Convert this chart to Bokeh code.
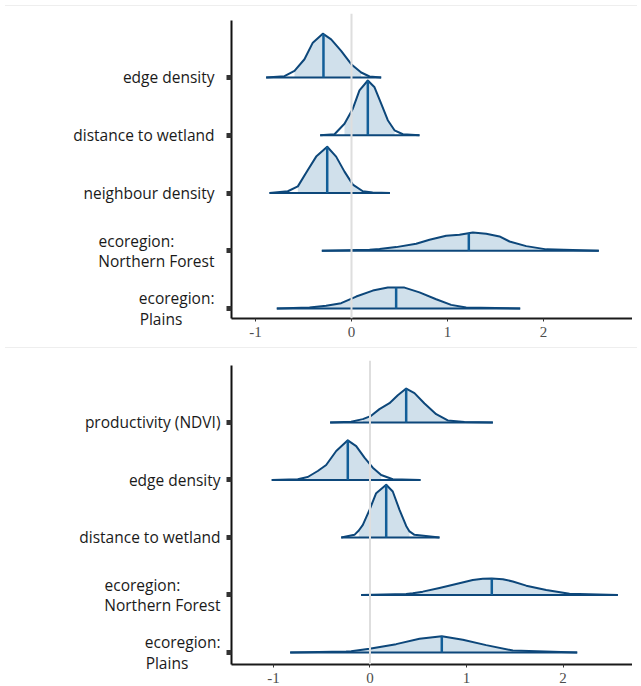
import numpy as np
from bokeh.plotting import figure
from bokeh.models import Range1d, FixedTicker, Span, Div
from bokeh.layouts import column
from bokeh.embed import file_html
from bokeh.resources import INLINE

NB = "\u00a0"

# ---------------- data: panel A (top) ----------------
a_labels = ["edge density", "distance to wetland", "neighbour density",
            "ecoregion:" + NB * 10 + "\nNorthern Forest", "ecoregion:\nPlains" + NB * 8]
a_pos = [5, 4, 3, 2, 1]

a_edge_x = [-0.889, -0.698, -0.594, -0.49, -0.403, -0.299, -0.212, -0.108, -0.003, 0.101, 0.188, 0.309]
a_edge_h = [0.0, 0.023, 0.115, 0.316, 0.603, 0.759, 0.66, 0.46, 0.23, 0.086, 0.017, 0.0]
a_dist_x = [-0.326, -0.177, -0.073, 0.014, 0.083, 0.17, 0.24, 0.309, 0.378, 0.448, 0.535, 0.708]
a_dist_h = [0.0, 0.017, 0.2, 0.46, 0.776, 0.948, 0.83, 0.546, 0.26, 0.086, 0.017, 0.0]
a_neigh_x = [-0.854, -0.663, -0.559, -0.455, -0.368, -0.253, -0.16, -0.073, 0.014, 0.118, 0.22, 0.40]
a_neigh_h = [0.0, 0.03, 0.115, 0.40, 0.63, 0.80, 0.63, 0.37, 0.145, 0.03, 0.008, 0.0]
a_nf_x = [-0.309, 0.188, 0.292, 0.465, 0.674, 0.8125, 0.986, 1.125, 1.264, 1.403, 1.542, 1.646, 1.82, 2.03, 2.576]
a_nf_h = [0.0, 0.017, 0.03, 0.063, 0.12, 0.19, 0.26, 0.276, 0.317, 0.293, 0.248, 0.16, 0.08, 0.024, 0.0]
a_pl_x = [-0.778, -0.4375, -0.264, -0.108, 0.049, 0.222, 0.378, 0.552, 0.708, 0.882, 1.038, 1.194, 1.757]
a_pl_h = [0.0, 0.017, 0.046, 0.092, 0.207, 0.31, 0.362, 0.362, 0.28, 0.16, 0.063, 0.017, 0.0]

a_medians = [-0.292, 0.17, -0.253, 1.222, 0.465]
a_fill_lo = [-0.594, -0.073, -0.559, 0.292, -0.4375]
a_fill_hi = [0.101, 0.448, 0.118, 2.03, 1.194]

# ---------------- data: panel B (bottom) ----------------
b_labels = ["productivity (NDVI)", "edge density", "distance to wetland",
            "ecoregion:" + NB * 10 + "\nNorthern Forest", "ecoregion:\nPlains" + NB * 8]
b_pos = [5, 4, 3, 2, 1]

b_prod_x = [-0.413, -0.195, -0.074, 0.012, 0.098, 0.202, 0.288, 0.375, 0.461, 0.565, 0.686, 0.806, 0.979, 1.273]
b_prod_h = [0.0, 0.012, 0.058, 0.116, 0.232, 0.336, 0.475, 0.59, 0.51, 0.33, 0.145, 0.035, 0.01, 0.0]
b_edge_x = [-1.018, -0.748, -0.645, -0.541, -0.454, -0.35, -0.23, -0.143, -0.057, 0.029, 0.116, 0.236, 0.523]
b_edge_h = [0.0, 0.012, 0.052, 0.156, 0.26, 0.504, 0.69, 0.59, 0.388, 0.214, 0.087, 0.012, 0.0]
b_dist_x = [-0.298, -0.161, -0.116, -0.074, -0.005, 0.064, 0.168, 0.236, 0.306, 0.375, 0.409, 0.461, 0.72]
b_dist_h = [0.0, 0.046, 0.122, 0.22, 0.48, 0.77, 0.916, 0.8, 0.48, 0.2, 0.105, 0.046, 0.0]
b_nf_x = [-0.091, 0.375, 0.444, 0.547, 0.72, 0.893, 1.065, 1.169, 1.262, 1.376, 1.48, 1.619, 1.826, 2.067, 2.568]
b_nf_h = [0.0, 0.017, 0.029, 0.058, 0.122, 0.191, 0.262, 0.282, 0.286, 0.275, 0.235, 0.162, 0.087, 0.023, 0.0]
b_pl_x = [-0.827, -0.247, -0.195, -0.005, 0.271, 0.513, 0.744, 0.962, 1.204, 1.48, 2.147]
b_pl_h = [0.0, 0.017, 0.022, 0.064, 0.145, 0.238, 0.284, 0.22, 0.128, 0.035, 0.0]

b_medians = [0.375, -0.23, 0.168, 1.262, 0.744]
b_fill_lo = [-0.074, -0.645, -0.116, 0.444, -0.195]
b_fill_hi = [0.806, 0.116, 0.409, 2.067, 1.48]

x_ticks = [-1, 0, 1, 2, 3]
x_tick_labels = ["-1", "0", "1", "2", "3"]

# ---------------- styling ----------------
FILL = "#d0e0eb"
EDGE = "#0d477a"
MED = "#125e98"
W = 632
LEFT = 231


def make_panel(curves, labels, pos, medians, fill_lo, fill_hi,
               xr, yr, y_axis_top, standoff, height, b_top, b_bottom):
    p = figure(width=W, height=height, output_backend="svg", toolbar_location=None,
               x_range=Range1d(*xr), y_range=Range1d(*yr),
               min_border_left=LEFT, min_border_right=0,
               min_border_top=b_top, min_border_bottom=b_bottom)
    p.outline_line_color = None
    p.xgrid.visible = False
    p.ygrid.visible = False
    p.background_fill_color = "white"
    p.border_fill_color = "white"

    p.add_layout(Span(location=0, dimension="height", line_color="#dedede", line_width=2))

    for (xs, hs), base, med, lo, hi in zip(curves, pos, medians, fill_lo, fill_hi):
        xs = np.asarray(xs, dtype=float)
        hs = np.asarray(hs, dtype=float)
        m = (xs >= lo - 1e-9) & (xs <= hi + 1e-9)
        p.varea(x=xs[m], y1=np.full(m.sum(), base), y2=base + hs[m], fill_color=FILL)
        p.line(xs, base + hs, line_color=EDGE, line_width=2, line_join="round")
        p.segment(x0=[xs[0]], y0=[base], x1=[xs[-1]], y1=[base],
                  line_color=EDGE, line_width=2)
        mh = float(np.interp(med, xs, hs))
        p.segment(x0=[med], y0=[base], x1=[med], y1=[base + mh],
                  line_color=MED, line_width=2.5)

    xa = p.xaxis[0]
    xa.ticker = FixedTicker(ticks=x_ticks)
    xa.major_label_overrides = {t: l for t, l in zip(x_ticks, x_tick_labels)}
    xa.minor_tick_line_color = None
    xa.axis_line_color = "#1a1a1a"
    xa.axis_line_width = 2
    xa.major_tick_line_color = "#333333"
    xa.major_tick_line_width = 1
    xa.major_tick_out = 3
    xa.major_tick_in = 0
    xa.major_label_standoff = 5
    xa.major_label_text_font = "Liberation Serif"
    xa.major_label_text_font_size = "15px"
    xa.major_label_text_color = "#4d4d4d"

    ya = p.yaxis[0]
    ya.ticker = FixedTicker(ticks=pos)
    ya.major_label_overrides = {t: l for t, l in zip(pos, labels)}
    ya.bounds = (yr[0], y_axis_top)
    ya.minor_tick_line_color = None
    ya.axis_line_color = "#111111"
    ya.axis_line_width = 2
    ya.major_tick_line_color = "#333333"
    ya.major_tick_line_width = 5
    ya.major_tick_out = 5
    ya.major_tick_in = 0
    ya.major_label_standoff = standoff
    ya.major_label_text_font = "Open Sans"
    ya.major_label_text_font_size = "15.5px"
    ya.major_label_text_line_height = 0.92
    ya.major_label_text_color = "#1a1a1a"
    return p


top = make_panel(
    [(a_edge_x, a_edge_h), (a_dist_x, a_dist_h), (a_neigh_x, a_neigh_h),
     (a_nf_x, a_nf_h), (a_pl_x, a_pl_h)],
    a_labels, a_pos, a_medians, a_fill_lo, a_fill_hi,
    xr=(-1.25, 2.927), yr=(0.827, 6.108), y_axis_top=5.987, standoff=12,
    height=331, b_top=2, b_bottom=24)

bottom = make_panel(
    [(b_prod_x, b_prod_h), (b_edge_x, b_edge_h), (b_dist_x, b_dist_h),
     (b_nf_x, b_nf_h), (b_pl_x, b_pl_h)],
    b_labels, b_pos, b_medians, b_fill_lo, b_fill_hi,
    xr=(-1.435, 2.72), yr=(0.791, 6.078), y_axis_top=5.99, standoff=6,
    height=335, b_top=7, b_bottom=24)

sep1 = Div(text="", width=W, height=1, styles={"background-color": "#eeeeee"})
sep2 = Div(text="", width=W, height=1, styles={"background-color": "#eeeeee"})

layout = column(sep1, top, sep2, bottom)

open("out.html", "w").write(file_html(layout, INLINE))
